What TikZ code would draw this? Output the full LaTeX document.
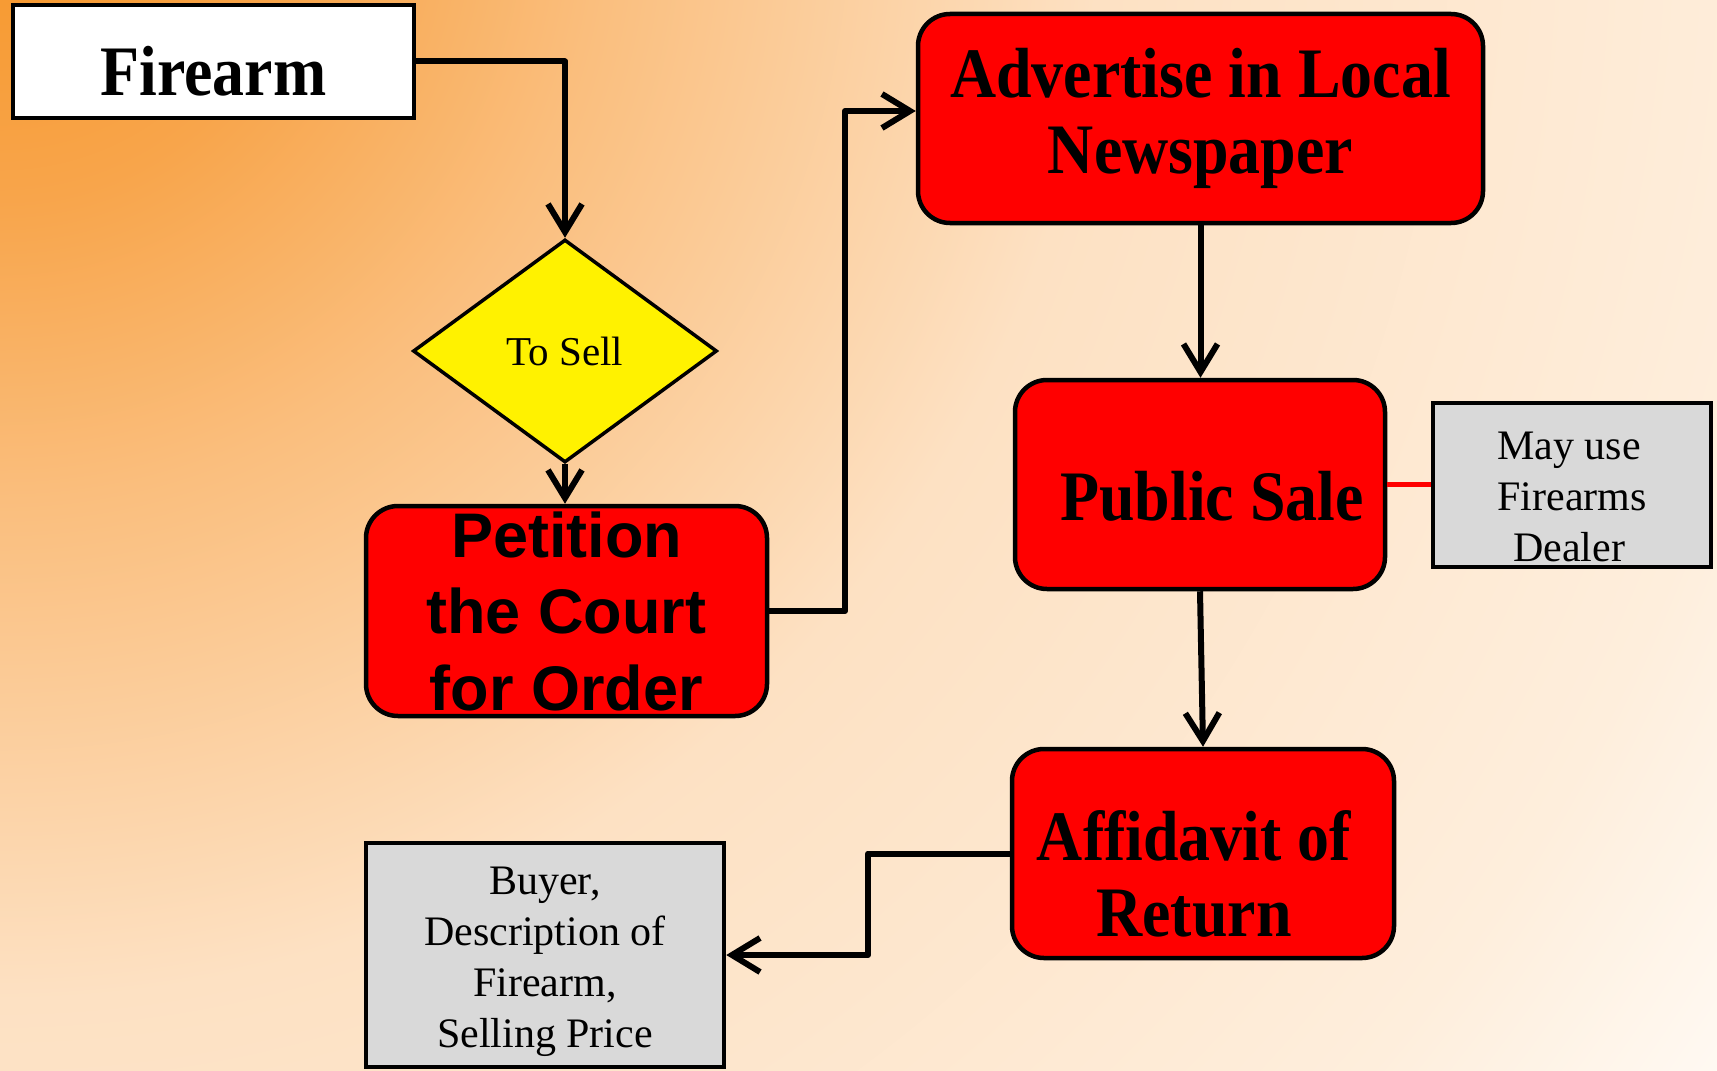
\documentclass[tikz,border=0pt]{standalone}
\usepackage{fontspec}
\setmainfont{Liberation Serif}
\newfontfamily\condserif[FakeStretch=0.9]{Liberation Serif}
\newfontfamily\sansfnt{Liberation Sans}
\usetikzlibrary{shapes.geometric, arrows.meta, calc}

\definecolor{bgA}{RGB}{246,150,40}
\definecolor{bgB}{RGB}{248,165,75}
\definecolor{bgC}{RGB}{250,190,125}
\definecolor{bgD}{RGB}{253,225,195}
\definecolor{bgE}{RGB}{254,238,220}
\definecolor{bgF}{RGB}{255,250,244}
\definecolor{graybg}{RGB}{217,217,217}

\pgfdeclareradialshading{bgshade}{\pgfpoint{0bp}{0bp}}{color(0bp)=(bgA); color(3.125bp)=(bgB); color(6.25bp)=(bgC); color(11.46bp)=(bgD); color(18.75bp)=(bgE); color(21.875bp)=(bgF); color(25bp)=(white); color(50bp)=(white)}

\tikzset{
  box/.style={draw=black, line width=2.25pt, inner sep=0pt, align=center},
  redbox/.style={box, fill=red, rounded corners=16pt},
  graybox/.style={box, fill=graybg},
  whitebox/.style={box, fill=white},
  decision/.style={diamond, draw=black, line width=1.75pt, fill=yellow, inner sep=0pt},
  arr/.style={line width=3pt, -{Straight Barb[length=14pt,width=17pt]}, line join=round},
  bigbold/.style={font=\condserif\bfseries\fontsize{35.5}{38}\selectfont},
  sansbold/.style={font=\sansfnt\bfseries\fontsize{31.5}{38.25}\selectfont},
  plaintext/.style={font=\fontsize{21}{25.5}\selectfont},
}

\begin{document}
\begin{tikzpicture}[x=0.5pt, y=-0.5pt]
\useasboundingbox (0,0) rectangle (1717,1070);
\clip (0,0) rectangle (1717,1070);
\shade[shading=bgshade] (0,-100) circle (1200pt);

% nodes
\node[whitebox, bigbold, minimum width=200.5pt, minimum height=56.5pt, text height=34.5pt, text depth=0pt] (firearm) at (213.5,61.5) {Firearm};
\node[decision, minimum width=152pt, minimum height=111.5pt, font=\fontsize{20.5}{24}\selectfont] (diamond) at (565,351) {To Sell};
\node[redbox, sansbold, minimum width=200.5pt, minimum height=105pt] (petition) at (566.5,611) {Petition\\the Court\\for Order};
\node[redbox, bigbold, minimum width=282.5pt, minimum height=104.5pt] (advertise) at (1200.5,118.5) {Advertise in Local\\Newspaper};
\node[redbox, bigbold, minimum width=185pt, minimum height=104.5pt, text height=35.5pt, text depth=0pt] (public) at (1200,484.5) {\hspace*{12pt}Public Sale};
\node[graybox, plaintext, minimum width=139pt, minimum height=82pt] (mayuse) at (1572,485) {\rule{0pt}{26pt}May use\hspace*{3pt}\\Firearms\hspace*{3pt}\\Dealer\hspace*{3pt}};
\node[redbox, bigbold, minimum width=191pt, minimum height=104.5pt] (affidavit) at (1203,853.5) {\rule{0pt}{45pt}Affidavit of\hspace*{9pt}\\Return\hspace*{9pt}};
\node[graybox, plaintext, minimum width=179pt, minimum height=112pt] (buyer) at (545,955) {\rule{0pt}{21pt}Buyer,\\Description of\\Firearm,\\Selling Price};

% connectors
\coordinate (c1) at (845,111);
\coordinate (c2) at (868,853.5);
\draw[arr] (firearm.east) -| (diamond.north);
\draw[arr] (diamond.south) -- (diamond.south |- petition.north);
\draw[arr] (petition.east) -| (c1) -- (c1 -| advertise.west);
\draw[arr] (advertise.south) -- (advertise.south |- public.north);
\draw[arr] (public.south) -- (affidavit.north);
\draw[red, line width=2.25pt] (public.east) -- (public.east -| mayuse.west);
\draw[arr] (affidavit.west) -- (affidavit.west -| c2) |- (buyer.east);
\end{tikzpicture}
\end{document}
